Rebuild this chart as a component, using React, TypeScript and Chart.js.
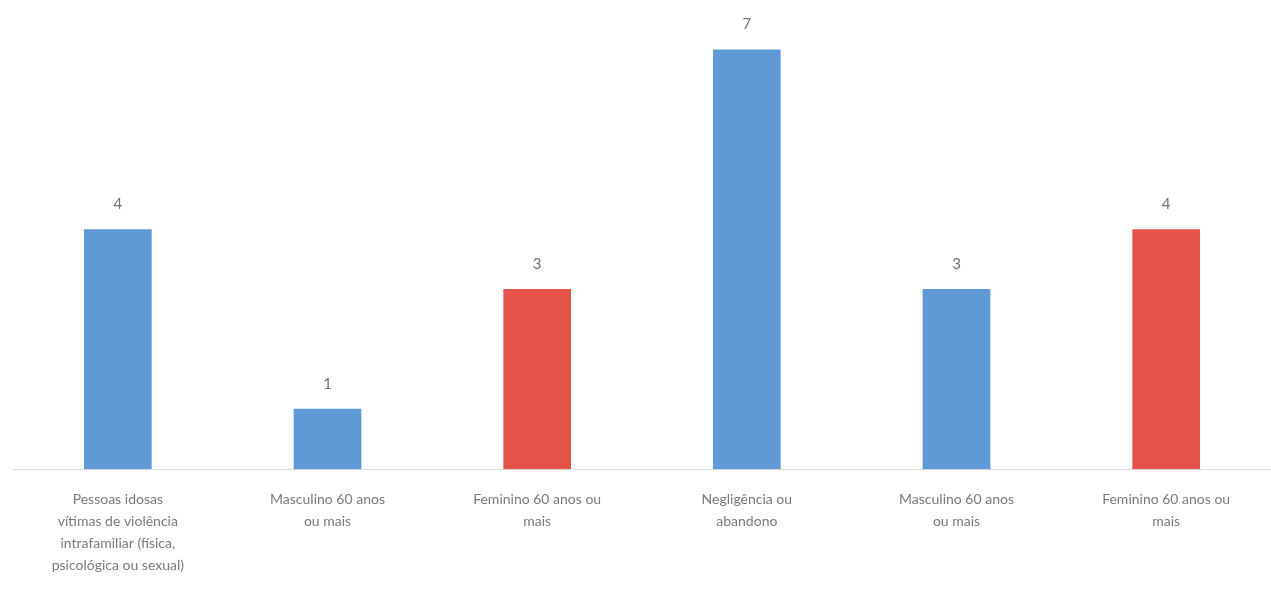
import React, { useEffect, useRef } from "react";
import { Chart, registerables } from "chart.js";

Chart.register(...registerables);

const categories: string[][] = [
  ["Pessoas idosas", "vítimas de violência", "intrafamiliar (física,", "psicológica ou sexual)"],
  ["Masculino 60 anos", "ou mais"],
  ["Feminino 60 anos ou", "mais"],
  ["Negligência ou", "abandono"],
  ["Masculino 60 anos", "ou mais"],
  ["Feminino 60 anos ou", "mais"],
];
const values: number[] = [4, 1, 3, 7, 3, 4];
const barColors: string[] = ["#5f9ad6", "#5f9ad6", "#e5524a", "#5f9ad6", "#5f9ad6", "#e5524a"];

const labelPlugin = {
  id: "valueLabels",
  afterDatasetsDraw(chart: any) {
    const ctx = chart.ctx;
    const meta = chart.getDatasetMeta(0);
    ctx.save();
    ctx.fillStyle = "#707070";
    ctx.font = "15px Lato";
    ctx.textAlign = "center";
    ctx.textBaseline = "bottom";
    meta.data.forEach((bar: any, i: number) => {
      ctx.fillText(String(values[i]), bar.x, bar.y - 18);
    });
    ctx.restore();
  },
};

export default function App() {
  const ref = useRef<HTMLCanvasElement | null>(null);
  useEffect(() => {
    if (!ref.current) return;
    const chart = new Chart(ref.current, {
      type: "bar",
      data: {
        labels: categories,
        datasets: [
          {
            data: values,
            backgroundColor: barColors,
            barThickness: 67,
          },
        ],
      },
      options: {
        animation: false,
        responsive: true,
        maintainAspectRatio: false,
        layout: { padding: { left: 13, right: 0, top: 20, bottom: 8 } },
        plugins: { legend: { display: false }, tooltip: { enabled: false } },
        scales: {
          x: {
            grid: { display: false },
            border: { display: true, color: "#d9d9d9", width: 1 },
            ticks: {
              color: "#7a7a7a",
              font: { family: "Lato", size: 14, lineHeight: 1.57 },
              padding: 11,
              maxRotation: 0,
              autoSkip: false,
            },
          },
          y: {
            display: false,
            min: 0,
            max: 7.5,
          },
        },
      },
      plugins: [labelPlugin],
    });
    return () => chart.destroy();
  }, []);
  return (
    <div style={{ position: "absolute", left: 0, top: 0, width: 1271, height: 595, background: "#fff" }}>
      <canvas ref={ref} />
    </div>
  );
}
